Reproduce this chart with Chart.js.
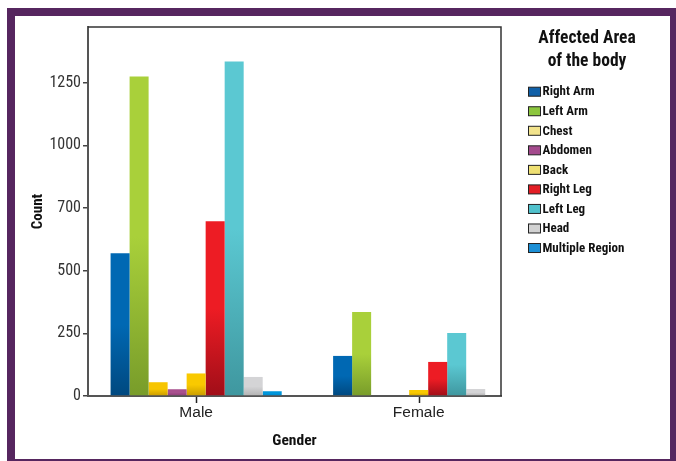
<!DOCTYPE html>
<html>
<head>
<meta charset="utf-8">
<script src="https://cdn.jsdelivr.net/npm/chart.js@4/dist/chart.umd.min.js"></script>
<style>
  html, body { margin: 0; padding: 0; background: #fff; overflow: hidden; }
  #wrap { position: relative; width: 676px; height: 461px; }
  #frame { position: absolute; left: 7px; top: 8px; width: 671px; height: 459px;
           border: 8px solid #56265f; box-sizing: border-box; pointer-events: none; }
  canvas { display: block; }
</style>
</head>
<body>
<div id="wrap">
  <canvas id="chart" width="676" height="461"></canvas>
  <div id="frame"></div>
</div>
<script>
// Categories on the x axis
const genders = ['Male', 'Female'];

// Series: affected area of the body
const areas = ['Right Arm', 'Left Arm', 'Chest', 'Abdomen', 'Back',
               'Right Leg', 'Left Leg', 'Head', 'Multiple Region'];

// Counts per area, one list per gender
const maleCounts   = [570, 1275, 55, 27, 90, 698, 1335, 76, 19];
const femaleCounts = [160,  335,  0,  0, 24, 136,  251, 28,  0];

// Y axis tick positions and the labels printed at them
const yTickValues = [0, 250, 500, 750, 1000, 1250];
const yTickLabels = ['0', '250', '500', '700', '1000', '1250'];

// Legend heading
const legendTitle = ['Affected Area', 'of the body'];

// Bar colours (top / bottom of the shading) and legend swatch colours
const barTop    = ['#0068b3', '#a9d03a', '#f7c500', '#a8508e', '#f9c900', '#ed1c24', '#5bc8d2', '#d4d4d6', '#0096db'];
const barBottom = ['#00487f', '#789c2a', '#c99a00', '#8a3d74', '#c89c00', '#a00e18', '#3f979f', '#b2b2b2', '#0082c4'];
const legendFill = ['#1060a8', '#8cc63e', '#f2e38c', '#a44a8d', '#efe073', '#e31e25', '#50c1cc', '#d2d2d2', '#1c8fd5'];

const condensed = '"Roboto Condensed", "Liberation Sans Narrow", "Arial Narrow", "DejaVu Sans Condensed", Roboto, sans-serif';
const plain = '"Liberation Sans", Arial, sans-serif';

function shadedFill(i) {
  return (c) => {
    const chart = c.chart;
    const ys = chart.scales && chart.scales.y;
    if (!ys || !c.raw || c.type !== 'data') return barTop[i];
    const top = ys.getPixelForValue(c.raw.y);
    const base = ys.getPixelForValue(0);
    if (!isFinite(top) || !isFinite(base) || base - top < 1) return barTop[i];
    const g = chart.ctx.createLinearGradient(0, top, 0, base);
    g.addColorStop(0, barTop[i]);
    g.addColorStop(0.5, barTop[i]);
    g.addColorStop(1, barBottom[i]);
    return g;
  };
}

const datasets = areas.map((name, i) => ({
  label: name,
  data: genders.map((g, gi) => ({ x: gi, y: (gi === 0 ? maleCounts : femaleCounts)[i] })),
  backgroundColor: shadedFill(i),
  borderWidth: 0,
  categoryPercentage: 0.769,
  barPercentage: 1.0
}));

// Legend block on the right, the top/right edges of the plot box,
// and the short tick marks under each gender
const sideLegend = {
  id: 'sideLegend',
  afterDraw(chart) {
    const ctx = chart.ctx;
    const a = chart.chartArea;
    const xs = chart.scales.x;
    ctx.save();
    ctx.strokeStyle = '#333';
    ctx.lineWidth = 1.5;
    ctx.beginPath();
    ctx.moveTo(a.left, a.top);
    ctx.lineTo(a.right, a.top);
    ctx.lineTo(a.right, a.bottom);
    ctx.stroke();

    ctx.strokeStyle = '#222';
    ctx.lineWidth = 1.5;
    xs.ticks.forEach((t, k) => {
      const px = Math.round(xs.getPixelForTick(k)) + 0.5;
      ctx.beginPath();
      ctx.moveTo(px, a.bottom + 1);
      ctx.lineTo(px, a.bottom + 7);
      ctx.stroke();
    });

    ctx.fillStyle = '#111';
    ctx.textAlign = 'center';
    ctx.textBaseline = 'middle';
    ctx.font = 'bold 17.5px ' + condensed;
    legendTitle.forEach((t, k) => ctx.fillText(t, 587, 39 + k * 22.7));

    ctx.font = 'bold 13px ' + condensed;
    ctx.textAlign = 'left';
    chart.data.datasets.forEach((ds, i) => {
      const y = 91.7 + i * 19.54;
      ctx.fillStyle = legendFill[i];
      ctx.fillRect(528.5, y - 4.5, 12, 9);
      ctx.strokeStyle = '#222';
      ctx.lineWidth = 1;
      ctx.strokeRect(528.5, y - 4.5, 12, 9);
      ctx.fillStyle = '#111';
      ctx.fillText(ds.label, 542.5, y + 0.5);
    });
    ctx.restore();
  }
};

new Chart(document.getElementById('chart'), {
  type: 'bar',
  data: { datasets },
  plugins: [sideLegend],
  options: {
    responsive: false,
    animation: false,
    devicePixelRatio: 1,
    layout: { padding: { left: 0, top: 27, right: 175, bottom: 0 } },
    plugins: { legend: { display: false }, tooltip: { enabled: false } },
    scales: {
      x: {
        type: 'linear',
        min: -0.486,
        max: 1.370,
        bounds: 'data',
        offset: false,
        z: 1,
        afterBuildTicks: (s) => { s.ticks = genders.map((g, gi) => ({ value: gi })); },
        afterFit: (s) => { s.height = 65; },
        ticks: {
          callback: (v) => genders[v] ?? '',
          font: { family: plain, size: 15.5 },
          color: '#222',
          padding: 7,
          maxRotation: 0,
          autoSkip: false
        },
        grid: { display: false, offset: false, drawOnChartArea: false, drawTicks: false },
        border: { display: true, color: '#555', width: 2 },
        title: {
          display: true, text: 'Gender', color: '#111',
          font: { family: condensed, size: 15.5, weight: 'bold' },
          padding: { top: 0, bottom: 11 }
        }
      },
      y: {
        min: 0,
        max: 1473,
        afterBuildTicks: (s) => { s.ticks = yTickValues.map(v => ({ value: v })); },
        afterFit: (s) => { s.width = 88; },
        ticks: {
          callback: (v) => yTickLabels[yTickValues.indexOf(v)],
          font: { family: condensed, size: 16 },
          color: '#333',
          padding: 2
        },
        grid: { display: true, offset: false, drawOnChartArea: false, drawTicks: true, tickLength: 5, color: '#444', lineWidth: 1.5 },
        border: { display: true, color: '#555', width: 2 },
        title: {
          display: true, text: 'Count', color: '#111',
          font: { family: condensed, size: 15, weight: 'bold' },
          padding: { top: 29.6, bottom: 0 }
        }
      }
    }
  }
});
</script>
</body>
</html>
